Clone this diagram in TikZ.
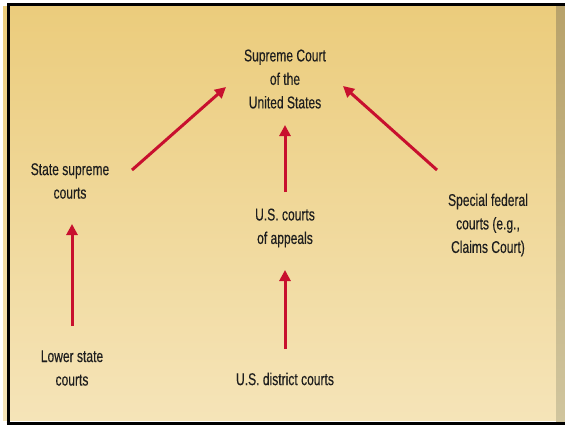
\documentclass[tikz,border=0pt]{standalone}
\usepackage{fontspec}
\setmainfont{Liberation Sans}[FakeStretch=0.71,FakeBold=0.3]
\usepackage{xcolor}
\usetikzlibrary{arrows.meta}

\definecolor{courtred}{RGB}{200,16,46}
\definecolor{paneltop}{RGB}{235,204,124}
\definecolor{panelbot}{RGB}{245,228,184}
\definecolor{shadetop}{RGB}{184,162,106}
\definecolor{shadebot}{RGB}{208,197,158}
\definecolor{textgray}{RGB}{30,30,30}

\begin{document}
\begin{tikzpicture}[x=1pt,y=-1pt,
  court/.style={align=center,inner sep=0pt,text=textgray,
    font=\fontsize{17}{23.5}\selectfont},
  appeal/.style={draw=courtred,line width=3pt,
    -{Triangle[length=11pt,width=11pt]}}]
\useasboundingbox (0,0) rectangle (565,426);

% panel and frame
\shade[top color=paneltop,bottom color=panelbot] (3,6) rectangle (556,420);
\shade[top color=shadetop,bottom color=shadebot] (556,6) rectangle (565,421);
\draw[line width=3pt] (7,4.5) -- (565,4.5);
\draw[line width=3pt] (8,3) -- (8,425);
\draw[line width=3pt] (6.5,423.5) -- (565,423.5);

% courts
\node[court] (supreme) at (285,79) {Supreme Court\\of the\\United States};
\node[court] (sstate) at (70,181) {State supreme\\courts};
\node[court] (lstate) at (72,368) {Lower state\\courts};
\node[court] (appeals) at (285,228) {U.S. courts\\of appeals};
\node[court] (district) at (285,379) {U.S. district courts};
\node[court] (special) at (488,225) {Special federal\\courts (e.g.,\\Claims Court)};

% appeals
\draw[appeal] ([shift={(62,-11)}]sstate.center) -- ([shift={(-59,8)}]supreme.center);
\draw[appeal] ([shift={(-51,-55)}]special.center) -- ([shift={(58,7)}]supreme.center);
\draw[appeal] ([shift={(0,-36)}]appeals.center) -- ([shift={(0,46)}]supreme.center);
\draw[appeal] ([shift={(0,-30)}]district.center) -- ([shift={(0,42)}]appeals.center);
\draw[appeal] ([shift={(0,-42)}]lstate.center) -- ([shift={(2,43)}]sstate.center);
\end{tikzpicture}
\end{document}
